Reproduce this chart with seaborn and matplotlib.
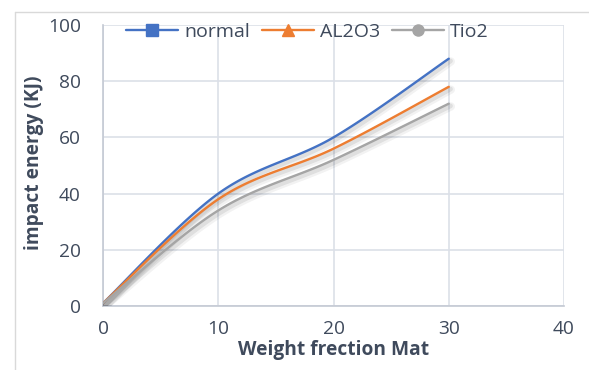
import numpy as np
import pandas as pd
import matplotlib
matplotlib.use("Agg")
import matplotlib.pyplot as plt
import matplotlib.patheffects as pe
from matplotlib.lines import Line2D
import seaborn as sns

# Impact energy vs. weight fraction for three mixes
weight_fraction = [0, 10, 20, 30]
normal = [1, 40, 60, 88]
al2o3 = [1, 38, 56, 78]
tio2 = [1, 34, 52, 72]

series_names = ["normal", "AL2O3", "Tio2"]
series_values = [normal, al2o3, tio2]
colors = ["#4472C4", "#ED7D31", "#A5A5A5"]
markers = ["s", "^", "o"]

x_ticks = [0, 10, 20, 30, 40]
y_ticks = [0, 20, 40, 60, 80, 100]


def smooth_curve(xs, ys, steps=40):
    """Spreadsheet-style smoothed line: cubic Bezier segments through each point."""
    p = np.column_stack([xs, ys]).astype(float)
    n = len(p)
    out = []
    for i in range(n - 1):
        p0 = p[i - 1] if i > 0 else p[i]
        p1, p2 = p[i], p[i + 1]
        p3 = p[i + 2] if i + 2 < n else p[i + 1]
        c1 = p1 + (p2 - p0) / 6.0
        c2 = p2 - (p3 - p1) / 6.0
        t = np.linspace(0, 1, steps, endpoint=(i == n - 2))[:, None]
        seg = ((1 - t) ** 3) * p1 + 3 * ((1 - t) ** 2) * t * c1 + 3 * (1 - t) * t ** 2 * c2 + t ** 3 * p2
        out.append(seg)
    out = np.vstack(out)
    return out[:, 0], out[:, 1]


frames = []
for name, vals in zip(series_names, series_values):
    sx, sy = smooth_curve(weight_fraction, vals)
    frames.append(pd.DataFrame({"x": sx, "y": sy, "series": name}))
df = pd.concat(frames, ignore_index=True)

sns.set_theme(style="white")
plt.rcParams["font.family"] = ["Open Sans", "DejaVu Sans"]
text_color = "#3F4A5C"

fig = plt.figure(figsize=(5.89, 3.70), dpi=100)
ax = fig.add_axes([103 / 589, 1 - 306 / 370, 461 / 589, 281 / 370])

shadow = [
    pe.SimpleLineShadow(offset=(1.5, -2.0), shadow_color="black", alpha=0.05, linewidth=6),
    pe.SimpleLineShadow(offset=(1.2, -1.6), shadow_color="black", alpha=0.08, linewidth=3.5),
    pe.Normal(),
]

sns.lineplot(data=df, x="x", y="y", hue="series", hue_order=series_names,
             palette=colors, sort=False, estimator=None, linewidth=1.7,
             legend=False, ax=ax, zorder=3)
for line in ax.get_lines():
    line.set_path_effects(shadow)
    line.set_solid_capstyle("round")

ax.set_xlim(0, 40)
ax.set_ylim(0, 100)
ax.set_xticks(x_ticks)
ax.set_yticks(y_ticks)
ax.set_xticklabels([str(v) for v in x_ticks])
ax.set_yticklabels([str(v) for v in y_ticks])
ax.tick_params(axis="both", length=0, labelsize=13.8, colors=text_color)
ax.tick_params(axis="x", pad=10)
ax.tick_params(axis="y", pad=16)

ax.grid(True, color="#DCE0E8", linewidth=1.2)
ax.set_axisbelow(True)
for side in ["top", "right"]:
    ax.spines[side].set_visible(False)
for side in ["left", "bottom"]:
    ax.spines[side].set_color("#C4C9D3")
    ax.spines[side].set_linewidth(1.2)

ax.set_xlabel("Weight frection Mat", fontsize=13.8, fontweight="bold", color=text_color)
ax.set_ylabel("impact energy (KJ)", fontsize=13.8, fontweight="bold", color=text_color)
ax.xaxis.set_label_coords(0.5, -0.122)
ax.yaxis.set_label_coords(-0.128, 0.51)

handles = [
    Line2D([0], [0], color=c, marker=m, markersize=8, linewidth=1.7, label=n)
    for n, c, m in zip(series_names, colors, markers)
]
leg = fig.legend(handles=handles, loc="center", bbox_to_anchor=(0.522, 1 - 32 / 370),
                 ncol=3, frameon=False, fontsize=14, handlelength=2.7,
                 handletextpad=0.3, columnspacing=0.6, labelcolor=text_color)

# chart area border
border_color = "#D9D9D9"
fig.add_artist(Line2D([15 / 589, 1.0], [1 - 12 / 370, 1 - 12 / 370], color=border_color, linewidth=1.0))
fig.add_artist(Line2D([15 / 589, 15 / 589], [0.0, 1 - 12 / 370], color=border_color, linewidth=1.0))

fig.savefig("out.png", dpi=100)
